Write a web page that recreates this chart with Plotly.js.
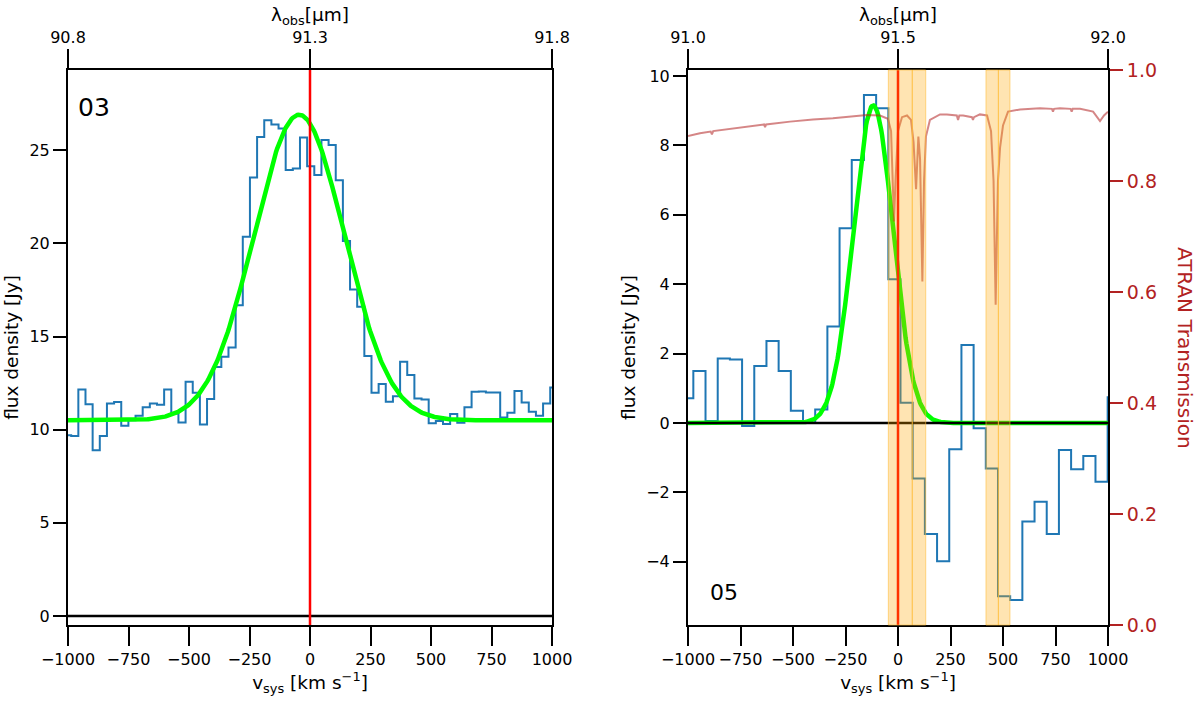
<!DOCTYPE html>
<html>
<head>
<meta charset="utf-8">
<script src="https://cdn.plot.ly/plotly-3.0.1.min.js"></script>
<style>
  html, body { margin: 0; padding: 0; background: #fff; }
  #chart { width: 1200px; height: 703px; }
</style>
</head>
<body>
<div id="chart"></div>
<script>
// ---- data ----

// left panel (03): channel velocities [km/s] and flux density [Jy]
const velL = [-1001.6, -972.1, -942.5, -913.0, -883.4, -853.9, -824.3, -794.8, -765.2, -735.7,
  -706.1, -676.6, -647.1, -617.5, -588.0, -558.4, -528.9, -499.3, -469.8, -440.2,
  -410.7, -381.2, -351.6, -322.1, -292.5, -263.0, -233.4, -203.9, -174.3, -144.8,
  -115.2, -85.7, -56.2, -26.6, 2.9, 32.5, 62.0, 91.6, 121.1, 150.7,
  180.2, 209.8, 239.3, 268.9, 298.4, 327.9, 357.5, 387.0, 416.6, 446.1,
  475.7, 505.2, 534.8, 564.3, 593.8, 623.4, 652.9, 682.5, 712.0, 741.6,
  771.1, 800.7, 830.2, 859.7, 889.3, 918.8, 948.4, 977.9, 1007.4];
const fluxL = [9.7, 9.66, 12.16, 11.36, 8.9, 9.66, 11.41, 11.48, 10.21, 10.5,
  10.75, 11.2, 11.41, 11.34, 12.16, 10.87, 10.39, 12.57, 11.98, 10.28,
  11.64, 13.37, 13.91, 14.41, 16.68, 20.35, 23.53, 25.71, 26.6, 26.38,
  26.16, 23.93, 24.02, 25.68, 24.14, 23.66, 25.54, 25.27, 23.39, 20.13,
  17.52, 16.6, 13.96, 11.98, 12.45, 11.5, 11.8, 13.64, 12.93, 11.68,
  11.62, 10.34, 10.46, 10.3, 10.84, 10.37, 11.2, 12.03, 12.05, 12.0,
  12.0, 10.66, 10.91, 12.07, 11.46, 10.96, 10.75, 11.41, 12.27];

// right panel (05)
const velR = [-1003.6, -945.6, -887.5, -829.5, -771.5, -713.5, -655.4, -597.4, -539.4, -481.3,
  -423.3, -365.3, -307.3, -249.2, -191.2, -133.2, -75.1, -17.1, 40.9, 99.0,
  157.0, 215.0, 273.0, 331.1, 389.1, 447.1, 505.2, 563.2, 621.2, 679.2,
  737.3, 795.3, 853.3, 911.4, 969.4, 1027.4];
const fluxR = [0.71, 1.5, 0.06, 1.86, 1.83, -0.09, 1.64, 2.36, 1.5, 0.35,
  0.01, 0.39, 2.78, 5.61, 7.58, 9.45, 9.07, 4.14, 0.58, -1.6,
  -3.2, -3.98, -0.76, 2.25, -0.15, -1.31, -4.99, -5.1, -2.84, -2.27,
  -3.2, -0.78, -1.33, -0.95, -1.69, 0.74];

// ATRAN atmospheric transmission over the right panel
const atranV = [-1000, -943, -892, -886, -880, -752, -638, -633, -628, -514, -405, -310, -214, -148,
  -86, -48, -33, -24, -19, -12, 0, 19, 43, 62, 74, 86, 91, 97, 105, 116, 124, 133,
  152, 200, 233, 280, 286, 292, 310, 352, 357, 362, 390, 424, 443, 455, 465, 476, 486,
  494, 500, 524, 581, 676, 733, 738, 743, 771, 822, 827, 832, 867, 929, 962, 981, 1000];
const atranT = [0.881, 0.886, 0.889, 0.884, 0.890, 0.897, 0.902, 0.897, 0.902, 0.907, 0.911, 0.913, 0.917, 0.919,
  0.918, 0.912, 0.89, 0.8, 0.727, 0.8, 0.89, 0.915, 0.918, 0.91, 0.87, 0.785, 0.84, 0.88, 0.84, 0.619, 0.8, 0.88,
  0.91, 0.92, 0.92, 0.918, 0.91, 0.918, 0.918, 0.915, 0.91, 0.915, 0.92, 0.918, 0.89, 0.8, 0.577, 0.8, 0.86,
  0.883, 0.9, 0.925, 0.929, 0.931, 0.930, 0.925, 0.930, 0.931, 0.930, 0.925, 0.930, 0.930, 0.925, 0.908, 0.918, 0.925];

// Gaussian fits (amplitude, centre, sigma, baseline)
const fitL = [16.4, -45, 187, 10.5];
const fitR = [9.15, -118, 95, 0.0];

// masked (orange) velocity ranges in the right panel
const bandLo = [-46, 68, 419, 478];
const bandHi = [68, 132, 478, 533];

const velTicks = [-1000, -750, -500, -250, 0, 250, 500, 750, 1000];
const lamTicksL = [90.8, 91.3, 91.8];
const lamTicksR = [91.0, 91.5, 92.0];
const transTicks = [0, 0.2, 0.4, 0.6, 0.8, 1.0];

// ---- build ----
const FONT = "DejaVu Sans, Verdana, sans-serif";
const BLUE = "#1f77b4";
const LIME = "#00ff00";
const BRICK = "#b22222";
const TICK_SIZE = 16;
const TITLE_SIZE = 18.5;

function gaussCurve(p) {
  const xs = [], ys = [];
  for (let v = -1000; v <= 1000; v += 4) {
    xs.push(v);
    ys.push(p[3] + p[0] * Math.exp(-0.5 * Math.pow((v - p[1]) / p[2], 2)));
  }
  return { xs, ys };
}

const gL = gaussCurve(fitL);
const gR = gaussCurve(fitR);

const traces = [
  { x: velL, y: fluxL, xaxis: "x", yaxis: "y", type: "scatter", mode: "lines",
    line: { shape: "hvh", color: BLUE, width: 2 }, hoverinfo: "skip" },
  { x: gL.xs, y: gL.ys, xaxis: "x", yaxis: "y", type: "scatter", mode: "lines",
    line: { color: LIME, width: 4.5 }, hoverinfo: "skip" },
  { x: velR, y: fluxR, xaxis: "x2", yaxis: "y2", type: "scatter", mode: "lines",
    line: { shape: "hvh", color: BLUE, width: 2 }, hoverinfo: "skip" },
  { x: gR.xs, y: gR.ys, xaxis: "x2", yaxis: "y2", type: "scatter", mode: "lines",
    line: { color: LIME, width: 4.5 }, hoverinfo: "skip" },
  { x: atranV, y: atranT, xaxis: "x2", yaxis: "y3", type: "scatter", mode: "lines",
    line: { color: "rgba(178,34,34,0.55)", width: 2 }, hoverinfo: "skip" },
  // empty traces so the wavelength axes get drawn
  { x: [], y: [], xaxis: "x3", yaxis: "y", type: "scatter", hoverinfo: "skip" },
  { x: [], y: [], xaxis: "x4", yaxis: "y2", type: "scatter", hoverinfo: "skip" }
];

const DOM_Y = [1 - 625 / 703, 1 - 70 / 703];
const DOM_L = [68 / 1200, 552 / 1200];
const DOM_R = [688 / 1200, 1108 / 1200];

const base = {
  showgrid: false, zeroline: false, showline: true, linecolor: "black", linewidth: 2,
  ticks: "outside", tickcolor: "black", tickwidth: 2, tickangle: 0,
  tickfont: { family: FONT, size: TICK_SIZE, color: "black" }
};

const shapes = [];
["x", "x2"].forEach(ax => {
  const ya = ax === "x" ? "y" : "y2";
  shapes.push({ type: "line", xref: ax + " domain", yref: ya, x0: 0, x1: 1, y0: 0, y1: 0,
    line: { color: "black", width: 2.5 }, layer: "above" });
  shapes.push({ type: "line", xref: ax, yref: ya + " domain", x0: 0, x1: 0, y0: 0, y1: 1,
    line: { color: "red", width: 2.5 }, layer: "above" });
});
bandLo.forEach((lo, i) => {
  shapes.push({ type: "rect", xref: "x2", yref: "y2 domain", x0: lo, x1: bandHi[i], y0: 0, y1: 1,
    fillcolor: "rgba(255,165,0,0.3)", line: { color: "rgba(255,190,60,0.6)", width: 1 }, layer: "above" });
});

const layout = {
  width: 1200,
  height: 703,
  margin: { l: 0, r: 0, t: 0, b: 0 },
  paper_bgcolor: "white",
  plot_bgcolor: "white",
  showlegend: false,
  font: { family: FONT, size: TICK_SIZE, color: "black" },
  xaxis: Object.assign({}, base, {
    domain: DOM_L, anchor: "y", range: [-1000, 1000], tickvals: velTicks, ticklen: 19, mirror: true,
    title: { text: "v<sub>sys</sub> [km s<sup>−1</sup>]", font: { family: FONT, size: TITLE_SIZE }, standoff: 6 }
  }),
  yaxis: Object.assign({}, base, {
    domain: DOM_Y, anchor: "x", range: [-0.48, 29.3], tickvals: [0, 5, 10, 15, 20, 25], ticklen: 13, mirror: true,
    title: { text: "flux density [Jy]", font: { family: FONT, size: TITLE_SIZE }, standoff: 6 }
  }),
  xaxis3: Object.assign({}, base, {
    overlaying: "x", side: "top", anchor: "y", range: [90.8, 91.8], tickvals: lamTicksL,
    ticktext: ["90.8", "91.3", "91.8"], ticklen: 19,
    title: { text: "λ<sub>obs</sub>[μm]", font: { family: FONT, size: TITLE_SIZE }, standoff: 1 }
  }),
  xaxis2: Object.assign({}, base, {
    domain: DOM_R, anchor: "y2", range: [-1000, 1000], tickvals: velTicks, ticklen: 19, mirror: true,
    title: { text: "v<sub>sys</sub> [km s<sup>−1</sup>]", font: { family: FONT, size: TITLE_SIZE }, standoff: 6 }
  }),
  yaxis2: Object.assign({}, base, {
    domain: DOM_Y, anchor: "x2", range: [-5.82, 10.17], tickvals: [-4, -2, 0, 2, 4, 6, 8, 10], ticklen: 13,
    title: { text: "flux density [Jy]", font: { family: FONT, size: TITLE_SIZE }, standoff: 6 }
  }),
  xaxis4: Object.assign({}, base, {
    overlaying: "x2", side: "top", anchor: "y2", range: [91.0, 92.0], tickvals: lamTicksR,
    ticktext: ["91.0", "91.5", "92.0"], ticklen: 19,
    title: { text: "λ<sub>obs</sub>[μm]", font: { family: FONT, size: TITLE_SIZE }, standoff: 1 }
  }),
  yaxis3: Object.assign({}, base, {
    overlaying: "y2", side: "right", anchor: "x2", range: [0, 1], tickvals: transTicks,
    ticktext: transTicks.map(t => t.toFixed(1)), ticklen: 13, tickcolor: BRICK,
    tickfont: { family: FONT, size: 19, color: BRICK }
  }),
  shapes: shapes,
  annotations: [
    { xref: "paper", yref: "paper", x: 76 / 1200, y: 1 - 107 / 703, xanchor: "left", yanchor: "middle",
      text: "03", showarrow: false, font: { family: FONT, size: 25, color: "black" } },
    { xref: "paper", yref: "paper", x: 708 / 1200, y: 1 - 592 / 703, xanchor: "left", yanchor: "middle",
      text: "05", showarrow: false, font: { family: FONT, size: 22, color: "black" } },
    { xref: "paper", yref: "paper", x: 1185 / 1200, y: 1 - 348 / 703, xanchor: "center", yanchor: "middle",
      text: "ATRAN Transmission", textangle: 90, showarrow: false,
      font: { family: FONT, size: 20, color: BRICK } }
  ]
};

Plotly.newPlot("chart", traces, layout, { displayModeBar: false, staticPlot: true });
</script>
</body>
</html>
